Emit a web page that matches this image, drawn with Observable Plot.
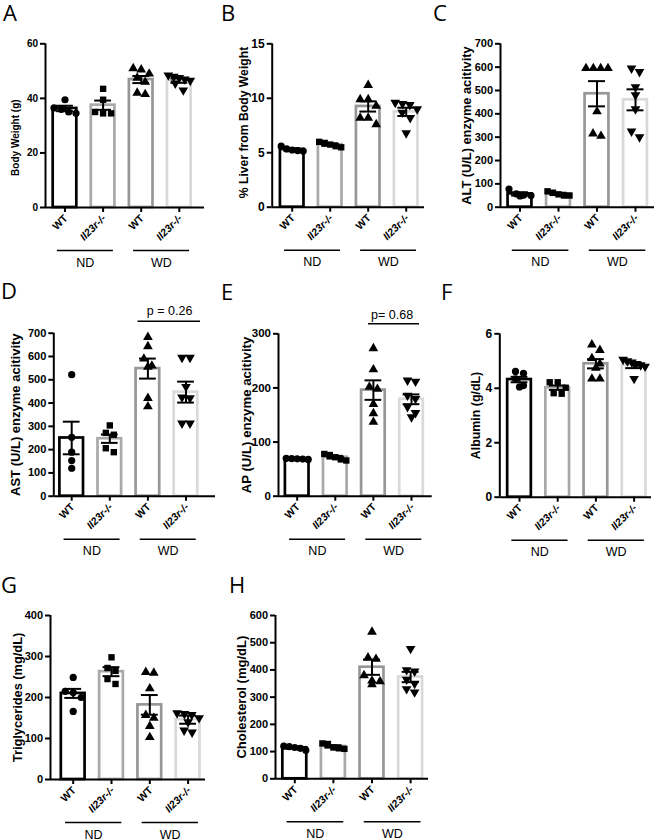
<!DOCTYPE html>
<html><head><meta charset="utf-8">
<script src="https://cdn.jsdelivr.net/npm/d3@7"></script>
<script src="https://cdn.jsdelivr.net/npm/@observablehq/plot@0.6"></script>
<style>
html,body{margin:0;padding:0;background:#fff;}
#fig{position:relative;width:654px;height:839px;overflow:hidden;font-family:"Liberation Sans",Arial,sans-serif;}
#fig svg.panel{position:absolute;}
#letters{position:absolute;left:0;top:0;pointer-events:none;}
</style></head><body><div id="fig"></div>
<script>
// ---------- shared categories ----------
const groupNames = ["WT ND", "Il23r-/- ND", "WT WD", "Il23r-/- WD"];
const genotypeLabels = ["WT", "Il23r-/-", "WT", "Il23r-/-"];
const genotypeItalic = [false, true, false, true];
const dietLabels = ["ND", "WD"];
const dietFirst = [0, 2];
const dietLast = [1, 3];
const barColors = ["#000000", "#a9a9a9", "#979797", "#d9d9d9"];

// ---------- A: Body weight ----------
const bwTicks = [0, 20, 40, 60];
const bwMean = [36.3, 37.5, 46.9, 46.5];
const bwSem = [1.0, 1.7, 1.3, 0.8];
const bwPoints = [
  [39.5, 36.5, 36, 35, 34.5],
  [43.5, 39.5, 35, 34.5, 34.5],
  [51, 50.5, 49, 47.5, 46, 42, 41.5],
  [48.5, 48, 47.5, 47, 46.5, 45.5, 43]
];
// ---------- B: % liver ----------
const livTicks = [0, 5, 10, 15];
const livMean = [5.3, 5.75, 9.25, 8.75];
const livSem = [0.1, 0.12, 0.47, 0.38];
const livPoints = [
  [5.6, 5.35, 5.25, 5.15, 5.2],
  [6.0, 5.9, 5.75, 5.6, 5.5],
  [11.2, 9.9, 9.9, 9.3, 8.2, 8.2, 7.6],
  [9.6, 9.5, 9.4, 9.0, 8.7, 8.2, 6.8]
];
// ---------- C: ALT ----------
const altTicks = [0, 100, 200, 300, 400, 500, 600, 700];
const altMean = [57, 57, 486, 460];
const altSem = [7, 5, 54, 45];
const altPoints = [
  [78, 57, 52, 48, 50],
  [68, 62, 55, 50, 50],
  [595, 595, 595, 595, 410, 305, 315],
  [595, 580, 515, 480, 420, 300, 325]
];
// ---------- D: AST ----------
const astTicks = [0, 100, 200, 300, 400, 500, 600, 700];
const astMean = [250, 247, 548, 447];
const astSem = [70, 18, 43, 45];
const astPoints = [
  [522, 253, 189, 153, 120],
  [304, 272, 264, 206, 189],
  [683, 643, 590, 560, 555, 421, 385],
  [595, 595, 470, 425, 422, 313, 313]
];
// ---------- E: AP ----------
const apTicks = [0, 100, 200, 300];
const apMean = [69, 72, 196, 179];
const apSem = [1, 2.5, 18, 9];
const apPoints = [
  [70, 69.5, 69, 68.5, 68],
  [78, 76, 72, 68, 66],
  [273, 234, 202, 198, 170, 153, 137],
  [214, 212, 186, 180, 165, 154, 146]
];
// ---------- F: Albumin ----------
const albTicks = [0, 2, 4, 6];
const albMean = [4.32, 4.02, 4.9, 4.84];
const albSem = [0.1, 0.08, 0.17, 0.1];
const albPoints = [
  [4.62, 4.55, 4.35, 4.1, 4.05],
  [4.22, 4.22, 4.02, 3.82, 3.8],
  [5.6, 5.4, 5.1, 4.9, 4.75, 4.35, 4.35],
  [5.05, 5.0, 4.95, 4.9, 4.85, 4.8, 4.35]
];
// ---------- G: Triglycerides ----------
const tgTicks = [0, 100, 200, 300, 400];
const tgMean = [210, 263, 182, 146];
const tgSem = [11, 11, 24, 10];
const tgPoints = [
  [249, 215, 212, 200, 166],
  [298, 272, 265, 245, 233],
  [262, 260, 222, 157, 150, 130, 103],
  [162, 160, 158, 150, 140, 120, 115]
];
// ---------- H: Cholesterol ----------
const chTicks = [0, 100, 200, 300, 400, 500, 600];
const chMean = [114, 119, 410, 374];
const chSem = [3.5, 4.5, 28, 19];
const chPoints = [
  [120, 118, 115, 112, 105],
  [130, 128, 115, 110, 112],
  [540, 445, 440, 380, 360, 358, 347],
  [478, 400, 395, 365, 350, 330, 318]
];

// ---------- layout (page pixels) ----------
const triangleDown = {
  draw(context, size) {
    const s3 = Math.sqrt(3);
    const y = -Math.sqrt(size / (s3 * 3));
    context.moveTo(0, -y * 2);
    context.lineTo(-s3 * y, y);
    context.lineTo(s3 * y, y);
    context.closePath();
  }
};
const pointSymbols = ["circle", "square", "triangle", triangleDown];
const cols = [[0, 215], [215, 215], [430, 224]];
const rows = [[0, 280], [280, 280], [560, 279]];

const panels = [
  {letter: "A", lx: 3, ly: 21, col: 0, row: 0, label: "Body Weight (g)", ticks: bwTicks, yMax: 60, mean: bwMean, sem: bwSem, points: bwPoints,
   f: {axis: 45, t0: 64.5, sp: 38.1, right: 204, y0: 207, yTop: 43.3}, fTick: 10, fLabel: 10, labelDx: 30, labelDy: 12},
  {letter: "B", lx: 221, ly: 21, col: 1, row: 0, label: "% Liver from Body Weight", ticks: livTicks, yMax: 15, mean: livMean, sem: livSem, points: livPoints,
   f: {axis: 271.7, t0: 291.7, sp: 38.0, right: 424, y0: 206.7, yTop: 43.3}, fTick: 12, fLabel: 12.2, labelDx: 28.5, labelDy: -3},
  {letter: "C", lx: 433, ly: 21, col: 2, row: 0, label: "ALT (U/L) enzyme acitivity", ticks: altTicks, yMax: 700, mean: altMean, sem: altSem, points: altPoints,
   f: {axis: 500, t0: 519.5, sp: 38.5, right: 654, y0: 206.7, yTop: 43.3}, fTick: 11, fLabel: 12.8, labelDx: 34, labelDy: 0},
  {letter: "D", lx: 1, ly: 298.5, col: 0, row: 1, label: "AST (U/L) enzyme acitivity", ticks: astTicks, yMax: 700, mean: astMean, sem: astSem, points: astPoints,
   f: {axis: 53.3, t0: 71.2, sp: 38.1, right: 215, y0: 495.7, yTop: 332.7}, fTick: 11, fLabel: 13, labelDx: 37.5, labelDy: 0,
   pText: "p = 0.26", pX1: 1.74, pX2: 3.38, pX: 2.57, pLineDy: -12, pTextDy: -22},
  {letter: "E", lx: 221, ly: 300, col: 1, row: 1, label: "AP (U/L) enzyme acitivity", ticks: apTicks, yMax: 300, mean: apMean, sem: apSem, points: apPoints,
   f: {axis: 278, t0: 296.7, sp: 38.1, right: 431.7, y0: 495.7, yTop: 333.3}, fTick: 11.5, fLabel: 13.2, labelDx: 32, labelDy: 0,
   pText: "p= 0.68", pX1: 1.87, pX2: 3.21, pX: 2.49, pLineDy: -10, pTextDy: -18.5},
  {letter: "F", lx: 441, ly: 300, col: 2, row: 1, label: "Albumin (g/dL)", ticks: albTicks, yMax: 6, mean: albMean, sem: albSem, points: albPoints,
   f: {axis: 499.3, t0: 519, sp: 38.2, right: 651, y0: 496.7, yTop: 333.3}, fTick: 12, fLabel: 12.4, labelDx: 24, labelDy: 0},
  {letter: "G", lx: 1, ly: 593, col: 0, row: 2, label: "Triglycerides (mg/dL)", ticks: tgTicks, yMax: 400, mean: tgMean, sem: tgSem, points: tgPoints,
   f: {axis: 50, t0: 72.7, sp: 38.3, right: 205, y0: 779, yTop: 615}, fTick: 11, fLabel: 12.8, labelDx: 32.5, labelDy: 0},
  {letter: "H", lx: 229, ly: 593, col: 1, row: 2, label: "Cholesterol (mg/dL)", ticks: chTicks, yMax: 600, mean: chMean, sem: chSem, points: chPoints,
   f: {axis: 275, t0: 294.3, sp: 38.6, right: 428, y0: 778.3, yTop: 615}, fTick: 11, fLabel: 13, labelDx: 34, labelDy: 0}
];

// spread points horizontally (scatter-dot-plot style)
function spread(values, pxPerUnit, spPx) {
  const order = values.map((v, i) => i).sort((a, b) => values[b] - values[a]);
  const off = new Array(values.length).fill(0);
  let cluster = [];
  const flush = () => {
    const n = cluster.length;
    const s = n > 1 ? Math.min(8, 22 / (n - 1)) : 0;
    cluster.forEach((j, k) => { off[j] = ((k - (n - 1) / 2) * s) / spPx; });
    cluster = [];
  };
  for (const j of order) {
    if (cluster.length && (values[cluster[0]] - values[j]) * pxPerUnit >= 7) flush();
    cluster.push(j);
  }
  flush();
  return off;
}

const fig = document.getElementById("fig");

function buildPanel(p) {
  const [colX, colW] = cols[p.col];
  const [rowY, rowH] = rows[p.row];
  const L = p.f;
  const xMin = -(L.t0 - L.axis) / L.sp;
  const xMax = 3 + (L.right - L.t0 - 3 * L.sp) / L.sp;
  const pxPerUnit = (L.y0 - L.yTop) / p.yMax;
  const bars = p.mean.map((m, i) => ({i, name: groupNames[i], mean: m, sem: p.sem[i], color: barColors[i]}));
  const pts = p.points.map((vals, i) => {
    const off = spread(vals, pxPerUnit, L.sp);
    return vals.map((v, k) => ({i, v, x: i + off[k]}));
  });
  const diets = dietLabels.map((name, k) => ({name, first: dietFirst[k], last: dietLast[k]}));
  const idx = genotypeLabels.map((t, i) => i);
  const marks = [
    Plot.rectY(bars, {x1: d => d.i - 0.31, x2: d => d.i + 0.31, y: "mean", fill: "white", stroke: "color", strokeWidth: 2.7}),
    ...pts.map((arr, i) => Plot.dot(arr, {x: "x", y: "v", r: 3.6, fill: "black", symbol: pointSymbols[i]})),
    Plot.ruleX(bars, {x: "i", y1: d => d.mean - d.sem, y2: d => d.mean + d.sem, stroke: "black", strokeWidth: 2}),
    Plot.ruleY(bars, {y: d => d.mean + d.sem, x1: d => d.i - 0.22, x2: d => d.i + 0.22, stroke: "black", strokeWidth: 2}),
    Plot.ruleY(bars, {y: d => d.mean - d.sem, x1: d => d.i - 0.22, x2: d => d.i + 0.22, stroke: "black", strokeWidth: 2}),
    Plot.ruleY([0], {stroke: "black", strokeWidth: 2}),
    Plot.ruleX([xMin], {stroke: "black", strokeWidth: 2}),
    Plot.axisY(p.ticks, {tickSize: 5, tickPadding: 2.5, strokeWidth: 2, label: null, fontSize: p.fTick, fontWeight: "bold"}),
    Plot.axisX(idx, {tickSize: 5, strokeWidth: 2, label: null, tickFormat: () => ""}),
    Plot.text(idx.filter(i => !genotypeItalic[i]), {x: d => d, y: () => 0, text: d => genotypeLabels[d], rotate: -45, textAnchor: "end", dx: 1, dy: 9, fontSize: 10.5, fontWeight: "bold"}),
    Plot.text(idx.filter(i => genotypeItalic[i]), {x: d => d, y: () => 0, text: d => genotypeLabels[d], rotate: -45, textAnchor: "end", dx: 1, dy: 9, fontSize: 10.5, fontWeight: "bold", fontStyle: "italic"}),
    Plot.ruleY(diets, {y: () => 0, x1: d => d.first - 0.2, x2: d => d.last + 0.27, dy: 43, stroke: "black", strokeWidth: 1.6}),
    Plot.text(diets, {x: d => (d.first + d.last) / 2 + 0.03, y: () => 0, text: "name", dy: 55, fontSize: 12.5, fontWeight: "normal"}),
    Plot.text([p.label], {frameAnchor: "left", rotate: -90, textAnchor: "middle", dx: -p.labelDx, dy: p.labelDy, fontSize: p.fLabel, fontWeight: "bold"})
  ];
  if (p.pText) {
    marks.push(
      Plot.ruleY([p.yMax], {x1: p.pX1, x2: p.pX2, dy: p.pLineDy, stroke: "black", strokeWidth: 1.6}),
      Plot.text([p.pText], {x: p.pX, y: () => p.yMax, dy: p.pTextDy, fontSize: 12.5, fontWeight: "normal"})
    );
  }
  const svg = Plot.plot({
    width: colW,
    height: rowH,
    marginLeft: L.axis - colX,
    marginRight: colX + colW - L.right,
    marginTop: L.yTop - rowY,
    marginBottom: rowY + rowH - L.y0,
    x: {domain: [xMin, xMax]},
    y: {domain: [0, p.yMax]},
    color: {type: "identity"},
    style: {fontFamily: "'Liberation Sans', Arial, sans-serif", fontSize: p.fTick + "px", color: "black", background: "none", overflow: "visible"},
    marks
  });
  svg.classList.add("panel");
  svg.style.left = colX + "px";
  svg.style.top = rowY + "px";
  fig.appendChild(svg);
}

panels.forEach(buildPanel);

// panel letters
const lettersSvg = d3.select(fig).append("svg").attr("id", "letters").attr("width", 654).attr("height", 839);
lettersSvg.selectAll("text").data(panels).join("text")
  .attr("x", d => d.lx).attr("y", d => d.ly)
  .attr("font-family", "'Open Sans', sans-serif").attr("font-size", 22).attr("fill", "black")
  .text(d => d.letter);
</script>
</body></html>
